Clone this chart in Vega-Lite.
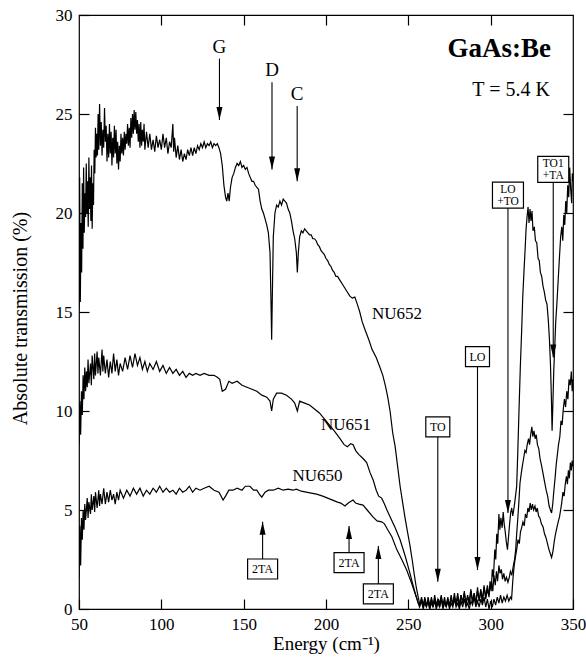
{
"$schema":"https://vega.github.io/schema/vega-lite/v6.json",
"width":494,"height":594,
"autosize":"none",
"padding":{"left":79,"top":15,"right":13,"bottom":59},
"background":"white",
"config":{"font":"Liberation Serif","view":{"stroke":"black","strokeWidth":1.2},
"style":{"guide-label":{"font":"Liberation Serif"},"guide-title":{"font":"Liberation Serif"}},
"axis":{"labelFont":"Liberation Serif","labelFontSize":17,"labelColor":"black","titleFont":"Liberation Serif","titleFontSize":19,"titleFontWeight":"normal","titleColor":"black","tickColor":"black","tickWidth":1.2,"domain":false,"grid":false}},
"datasets":{
"ann":[
{"t":"G","l1":"","l2":"","x":135.3,"yt":28.4,"ya":27.8,"yb":24.7,"dir":"down","box":"none"},
{"t":"D","l1":"","l2":"","x":167.2,"yt":27.2,"ya":26.6,"yb":22.2,"dir":"down","box":"none"},
{"t":"C","l1":"","l2":"","x":182.5,"yt":26.0,"ya":25.4,"yb":21.6,"dir":"down","box":"none"},
{"t":"TO","l1":"","l2":"","x":267.9,"yt":9.2,"ya":9.2,"yb":1.38,"dir":"down","box":"single"},
{"t":"LO","l1":"","l2":"","x":292.0,"yt":12.75,"ya":12.75,"yb":1.97,"dir":"down","box":"single"},
{"t":"LO +TO","l1":"LO","l2":"+TO","x":310.5,"yt":20.9,"ya":20.9,"yb":4.85,"dir":"down","box":"double"},
{"t":"TO1 +TA","l1":"TO1","l2":"+TA","x":338.0,"yt":22.2,"ya":22.2,"yb":12.7,"dir":"down","box":"double"},
{"t":"2TA","l1":"","l2":"","x":161.5,"yt":2.02,"ya":2.02,"yb":4.41,"dir":"up","box":"wide"},
{"t":"2TA","l1":"","l2":"","x":214.0,"yt":2.34,"ya":2.34,"yb":4.19,"dir":"up","box":"wide"},
{"t":"2TA","l1":"","l2":"","x":231.8,"yt":0.76,"ya":0.76,"yb":3.18,"dir":"up","box":"wide"}
],
"curvelabels":[
{"t":"NU652","x":243.1,"y":14.9},
{"t":"NU651","x":212.1,"y":9.3},
{"t":"NU650","x":194.8,"y":6.7}
],
"titles":[
{"t":"GaAs:Be","x":336.6,"y":28.3,"k":"main"},
{"t":"T = 5.4 K","x":336.0,"y":26.2,"k":"sub"}
],
"spectra":[
{"s":"NU652","x":50,"y":15.2},{"s":"NU652","x":50.4,"y":21.8},{"s":"NU652","x":50.8,"y":15.5},{"s":"NU652","x":51.2,"y":19.5},{"s":"NU652","x":51.6,"y":17.0},{"s":"NU652","x":52.0,"y":21.5},{"s":"NU652","x":52.4,"y":18.2},{"s":"NU652","x":52.8,"y":22.3},{"s":"NU652","x":53.2,"y":19.0},{"s":"NU652","x":53.6,"y":21.0},{"s":"NU652","x":54.0,"y":19.8},{"s":"NU652","x":54.4,"y":22.5},{"s":"NU652","x":54.8,"y":20.0},{"s":"NU652","x":55.2,"y":21.6},{"s":"NU652","x":55.6,"y":19.3},{"s":"NU652","x":56.0,"y":22.8},{"s":"NU652","x":56.4,"y":20.2},{"s":"NU652","x":56.8,"y":21.8},{"s":"NU652","x":57.2,"y":19.6},{"s":"NU652","x":57.6,"y":22.4},{"s":"NU652","x":58.0,"y":19.2},{"s":"NU652","x":58.4,"y":21.5},{"s":"NU652","x":58.8,"y":20.4},{"s":"NU652","x":59.2,"y":23.2},{"s":"NU652","x":59.6,"y":22.0},{"s":"NU652","x":60.0,"y":24.3},{"s":"NU652","x":60.4,"y":22.8},{"s":"NU652","x":60.8,"y":24.0},{"s":"NU652","x":61.2,"y":22.9},{"s":"NU652","x":61.6,"y":25.0},{"s":"NU652","x":62.0,"y":23.2},{"s":"NU652","x":62.5,"y":25.5},{"s":"NU652","x":63.0,"y":23.4},{"s":"NU652","x":63.5,"y":24.6},{"s":"NU652","x":64.0,"y":22.9},{"s":"NU652","x":64.5,"y":24.2},{"s":"NU652","x":65.0,"y":23.3},{"s":"NU652","x":65.5,"y":25.3},{"s":"NU652","x":66.0,"y":23.6},{"s":"NU652","x":66.5,"y":24.4},{"s":"NU652","x":67.0,"y":22.6},{"s":"NU652","x":67.5,"y":24.0},{"s":"NU652","x":68.0,"y":22.8},{"s":"NU652","x":68.5,"y":24.5},{"s":"NU652","x":69.0,"y":23.0},{"s":"NU652","x":69.5,"y":24.1},{"s":"NU652","x":70.0,"y":22.4},{"s":"NU652","x":70.5,"y":23.8},{"s":"NU652","x":71.0,"y":22.8},{"s":"NU652","x":71.5,"y":24.4},{"s":"NU652","x":72.0,"y":23.0},{"s":"NU652","x":72.5,"y":24.2},{"s":"NU652","x":73.0,"y":22.5},{"s":"NU652","x":73.5,"y":23.6},{"s":"NU652","x":74.0,"y":22.2},{"s":"NU652","x":74.5,"y":23.4},{"s":"NU652","x":75.0,"y":22.6},{"s":"NU652","x":75.5,"y":24.0},{"s":"NU652","x":76.0,"y":23.0},{"s":"NU652","x":76.5,"y":23.8},{"s":"NU652","x":77.0,"y":22.9},{"s":"NU652","x":77.5,"y":24.1},{"s":"NU652","x":78.0,"y":23.2},{"s":"NU652","x":78.5,"y":24.0},{"s":"NU652","x":79.0,"y":23.5},{"s":"NU652","x":79.5,"y":24.5},{"s":"NU652","x":80.0,"y":23.4},{"s":"NU652","x":80.5,"y":24.3},{"s":"NU652","x":81.0,"y":23.3},{"s":"NU652","x":81.5,"y":24.8},{"s":"NU652","x":82.0,"y":23.8},{"s":"NU652","x":82.5,"y":25.0},{"s":"NU652","x":83.0,"y":24.0},{"s":"NU652","x":83.5,"y":25.2},{"s":"NU652","x":84.0,"y":24.2},{"s":"NU652","x":84.5,"y":25.1},{"s":"NU652","x":85.0,"y":24.0},{"s":"NU652","x":85.5,"y":24.7},{"s":"NU652","x":86.0,"y":23.6},{"s":"NU652","x":86.5,"y":24.5},{"s":"NU652","x":87.0,"y":23.3},{"s":"NU652","x":87.5,"y":24.6},{"s":"NU652","x":88.0,"y":23.4},{"s":"NU652","x":88.5,"y":24.2},{"s":"NU652","x":89.0,"y":23.6},{"s":"NU652","x":89.5,"y":24.5},{"s":"NU652","x":90.0,"y":23.2},{"s":"NU652","x":91.0,"y":24.1},{"s":"NU652","x":92.0,"y":23.3},{"s":"NU652","x":93.0,"y":24.0},{"s":"NU652","x":94.0,"y":23.2},{"s":"NU652","x":95.0,"y":23.7},{"s":"NU652","x":96.0,"y":23.1},{"s":"NU652","x":97.0,"y":23.9},{"s":"NU652","x":98.0,"y":23.3},{"s":"NU652","x":99.0,"y":23.7},{"s":"NU652","x":100.0,"y":23.2},{"s":"NU652","x":101.0,"y":24.0},{"s":"NU652","x":102.0,"y":23.3},{"s":"NU652","x":103.0,"y":23.8},{"s":"NU652","x":104.0,"y":23.0},{"s":"NU652","x":105.0,"y":23.6},{"s":"NU652","x":106.0,"y":23.3},{"s":"NU652","x":107.0,"y":24.5},{"s":"NU652","x":107.5,"y":23.1},{"s":"NU652","x":108.0,"y":23.8},{"s":"NU652","x":109.0,"y":22.8},{"s":"NU652","x":110.0,"y":23.4},{"s":"NU652","x":111.0,"y":22.7},{"s":"NU652","x":112.0,"y":23.2},{"s":"NU652","x":113.0,"y":22.6},{"s":"NU652","x":114.0,"y":23.0},{"s":"NU652","x":115.0,"y":22.7},{"s":"NU652","x":116.0,"y":23.2},{"s":"NU652","x":117.0,"y":22.9},{"s":"NU652","x":118.0,"y":23.3},{"s":"NU652","x":119.0,"y":22.9},{"s":"NU652","x":120.0,"y":23.3},{"s":"NU652","x":121.0,"y":23.0},{"s":"NU652","x":122.0,"y":23.4},{"s":"NU652","x":123.0,"y":23.2},{"s":"NU652","x":124.0,"y":23.5},{"s":"NU652","x":125.0,"y":23.3},{"s":"NU652","x":126.0,"y":23.6},{"s":"NU652","x":127.0,"y":23.3},{"s":"NU652","x":128.0,"y":23.5},{"s":"NU652","x":129.0,"y":23.4},{"s":"NU652","x":130.0,"y":23.6},{"s":"NU652","x":131.0,"y":23.3},{"s":"NU652","x":132.0,"y":23.5},{"s":"NU652","x":133.0,"y":23.4},{"s":"NU652","x":134.0,"y":23.5},{"s":"NU652","x":135.0,"y":23.3},{"s":"NU652","x":136.0,"y":23.0},{"s":"NU652","x":137.0,"y":22.4},{"s":"NU652","x":138.0,"y":21.4},{"s":"NU652","x":139.0,"y":20.8},{"s":"NU652","x":139.7,"y":20.6},{"s":"NU652","x":140.5,"y":21.0},{"s":"NU652","x":141.2,"y":20.6},{"s":"NU652","x":142.0,"y":21.3},{"s":"NU652","x":143.0,"y":21.8},{"s":"NU652","x":144.0,"y":22.0},{"s":"NU652","x":145.0,"y":22.3},{"s":"NU652","x":146.0,"y":22.5},{"s":"NU652","x":147.0,"y":22.4},{"s":"NU652","x":148.0,"y":22.6},{"s":"NU652","x":149.0,"y":22.3},{"s":"NU652","x":150.0,"y":22.4},{"s":"NU652","x":151.0,"y":22.2},{"s":"NU652","x":152.0,"y":22.3},{"s":"NU652","x":153.0,"y":22.0},{"s":"NU652","x":154.0,"y":21.8},{"s":"NU652","x":155.0,"y":21.6},{"s":"NU652","x":156.0,"y":21.6},{"s":"NU652","x":157.0,"y":21.4},{"s":"NU652","x":158.0,"y":21.3},{"s":"NU652","x":159.0,"y":21.2},{"s":"NU652","x":160.0,"y":20.6},{"s":"NU652","x":161.0,"y":20.2},{"s":"NU652","x":162.0,"y":20.0},{"s":"NU652","x":163.0,"y":19.7},{"s":"NU652","x":164.0,"y":19.4},{"s":"NU652","x":165.0,"y":19.0},{"s":"NU652","x":166.0,"y":18.0},{"s":"NU652","x":166.6,"y":15.5},{"s":"NU652","x":167.0,"y":13.6},{"s":"NU652","x":167.4,"y":15.8},{"s":"NU652","x":168.0,"y":18.8},{"s":"NU652","x":169.0,"y":20.0},{"s":"NU652","x":170.0,"y":20.4},{"s":"NU652","x":171.0,"y":20.3},{"s":"NU652","x":172.0,"y":20.6},{"s":"NU652","x":173.0,"y":20.4},{"s":"NU652","x":174.0,"y":20.7},{"s":"NU652","x":175.0,"y":20.6},{"s":"NU652","x":176.0,"y":20.5},{"s":"NU652","x":177.0,"y":20.2},{"s":"NU652","x":178.0,"y":20.0},{"s":"NU652","x":179.0,"y":19.6},{"s":"NU652","x":180.0,"y":19.1},{"s":"NU652","x":181.0,"y":18.7},{"s":"NU652","x":182.0,"y":18.0},{"s":"NU652","x":182.6,"y":17.0},{"s":"NU652","x":183.2,"y":18.0},{"s":"NU652","x":184.0,"y":18.8},{"s":"NU652","x":185.0,"y":19.1},{"s":"NU652","x":186.0,"y":19.0},{"s":"NU652","x":187.0,"y":19.2},{"s":"NU652","x":188.0,"y":19.1},{"s":"NU652","x":189.0,"y":19.0},{"s":"NU652","x":190.0,"y":18.9},{"s":"NU652","x":191.0,"y":18.9},{"s":"NU652","x":192.0,"y":18.7},{"s":"NU652","x":193.0,"y":18.7},{"s":"NU652","x":194.0,"y":18.6},{"s":"NU652","x":195.0,"y":18.4},{"s":"NU652","x":196.0,"y":18.3},{"s":"NU652","x":197.0,"y":18.1},{"s":"NU652","x":198.0,"y":18.0},{"s":"NU652","x":199.0,"y":17.9},{"s":"NU652","x":200.0,"y":17.7},{"s":"NU652","x":201.0,"y":17.6},{"s":"NU652","x":202.0,"y":17.4},{"s":"NU652","x":203.0,"y":17.3},{"s":"NU652","x":204.0,"y":17.1},{"s":"NU652","x":205.0,"y":17.0},{"s":"NU652","x":206.0,"y":16.8},{"s":"NU652","x":207.0,"y":16.8},{"s":"NU652","x":208.5,"y":16.6},{"s":"NU652","x":210.0,"y":16.4},{"s":"NU652","x":211.5,"y":16.2},{"s":"NU652","x":213.0,"y":16.0},{"s":"NU652","x":214.5,"y":15.8},{"s":"NU652","x":216.0,"y":15.7},{"s":"NU652","x":217.5,"y":15.75},{"s":"NU652","x":219.0,"y":15.4},{"s":"NU652","x":220.5,"y":15.0},{"s":"NU652","x":222.0,"y":14.5},{"s":"NU652","x":223.7,"y":14.1},{"s":"NU652","x":226.0,"y":13.6},{"s":"NU652","x":228.0,"y":13.1},{"s":"NU652","x":230.5,"y":12.7},{"s":"NU652","x":232.8,"y":12.2},{"s":"NU652","x":234.5,"y":11.8},{"s":"NU652","x":236.0,"y":11.3},{"s":"NU652","x":237.5,"y":10.7},{"s":"NU652","x":238.9,"y":10.0},{"s":"NU652","x":240.5,"y":8.9},{"s":"NU652","x":242.0,"y":8.2},{"s":"NU652","x":243.5,"y":7.2},{"s":"NU652","x":245.0,"y":6.2},{"s":"NU652","x":246.5,"y":5.4},{"s":"NU652","x":248.0,"y":4.6},{"s":"NU652","x":249.5,"y":3.9},{"s":"NU652","x":251.0,"y":3.2},{"s":"NU652","x":252.5,"y":2.4},{"s":"NU652","x":253.5,"y":1.8},{"s":"NU652","x":254.8,"y":1.1},{"s":"NU652","x":256.0,"y":0.6},{"s":"NU652","x":257.0,"y":0.2},{"s":"NU652","x":258,"y":0.5},{"s":"NU652","x":259,"y":0.1},{"s":"NU652","x":260,"y":0.6},{"s":"NU652","x":261,"y":0.2},{"s":"NU652","x":262,"y":0.4},{"s":"NU652","x":263,"y":0.0},{"s":"NU652","x":264,"y":0.6},{"s":"NU652","x":265,"y":0.2},{"s":"NU652","x":266,"y":0.5},{"s":"NU652","x":267,"y":0.1},{"s":"NU652","x":268,"y":0.5},{"s":"NU652","x":269,"y":0.3},{"s":"NU652","x":270,"y":0.7},{"s":"NU652","x":271,"y":0.1},{"s":"NU652","x":272,"y":0.4},{"s":"NU652","x":273,"y":0.2},{"s":"NU652","x":274,"y":0.6},{"s":"NU652","x":275,"y":0.1},{"s":"NU652","x":276,"y":0.5},{"s":"NU652","x":277,"y":0.3},{"s":"NU652","x":278,"y":0.8},{"s":"NU652","x":279,"y":0.2},{"s":"NU652","x":280,"y":0.6},{"s":"NU652","x":281,"y":0.1},{"s":"NU652","x":282,"y":0.7},{"s":"NU652","x":283,"y":0.3},{"s":"NU652","x":284,"y":0.9},{"s":"NU652","x":285,"y":0.2},{"s":"NU652","x":286,"y":0.6},{"s":"NU652","x":287,"y":0.4},{"s":"NU652","x":288,"y":1.0},{"s":"NU652","x":289,"y":0.3},{"s":"NU652","x":290,"y":0.8},{"s":"NU652","x":291,"y":0.2},{"s":"NU652","x":292,"y":1.1},{"s":"NU652","x":293,"y":0.4},{"s":"NU652","x":294,"y":0.9},{"s":"NU652","x":295,"y":0.3},{"s":"NU652","x":296,"y":1.2},{"s":"NU652","x":297,"y":0.5},{"s":"NU652","x":298,"y":1.0},{"s":"NU652","x":299,"y":0.6},{"s":"NU652","x":299.6,"y":1.4},{"s":"NU652","x":300.3,"y":0.9},{"s":"NU652","x":301,"y":2.0},{"s":"NU652","x":301.7,"y":1.6},{"s":"NU652","x":302.5,"y":3.0},{"s":"NU652","x":303.1,"y":2.5},{"s":"NU652","x":303.7,"y":3.8},{"s":"NU652","x":304.3,"y":3.3},{"s":"NU652","x":305,"y":4.8},{"s":"NU652","x":305.6,"y":4.0},{"s":"NU652","x":306.2,"y":4.6},{"s":"NU652","x":307,"y":4.1},{"s":"NU652","x":307.6,"y":4.9},{"s":"NU652","x":308.2,"y":4.3},{"s":"NU652","x":308.7,"y":4.0},{"s":"NU652","x":309.5,"y":3.4},{"s":"NU652","x":310.2,"y":3.0},{"s":"NU652","x":310.8,"y":3.6},{"s":"NU652","x":311.5,"y":4.3},{"s":"NU652","x":312.2,"y":4.9},{"s":"NU652","x":312.8,"y":5.1},{"s":"NU652","x":313.4,"y":4.7},{"s":"NU652","x":314.0,"y":5.0},{"s":"NU652","x":314.8,"y":5.5},{"s":"NU652","x":315.8,"y":6.2},{"s":"NU652","x":316.5,"y":8.0},{"s":"NU652","x":317.2,"y":10.0},{"s":"NU652","x":318.0,"y":12.2},{"s":"NU652","x":318.8,"y":14.0},{"s":"NU652","x":319.5,"y":15.8},{"s":"NU652","x":320.2,"y":17.0},{"s":"NU652","x":321.0,"y":18.3},{"s":"NU652","x":321.5,"y":19.2},{"s":"NU652","x":322.1,"y":19.8},{"s":"NU652","x":322.7,"y":20.3},{"s":"NU652","x":323.3,"y":19.5},{"s":"NU652","x":323.9,"y":20.2},{"s":"NU652","x":324.5,"y":19.6},{"s":"NU652","x":325.1,"y":20.1},{"s":"NU652","x":325.7,"y":19.1},{"s":"NU652","x":326.5,"y":19.3},{"s":"NU652","x":327.2,"y":18.6},{"s":"NU652","x":328,"y":18.5},{"s":"NU652","x":328.8,"y":17.7},{"s":"NU652","x":329.5,"y":17.6},{"s":"NU652","x":330.2,"y":17.0},{"s":"NU652","x":331,"y":16.8},{"s":"NU652","x":331.8,"y":16.3},{"s":"NU652","x":332.6,"y":16.0},{"s":"NU652","x":333.4,"y":15.6},{"s":"NU652","x":334.2,"y":15.4},{"s":"NU652","x":335.0,"y":14.6},{"s":"NU652","x":335.7,"y":13.6},{"s":"NU652","x":336.3,"y":12.4},{"s":"NU652","x":336.9,"y":10.6},{"s":"NU652","x":337.3,"y":9.0},{"s":"NU652","x":337.8,"y":10.4},{"s":"NU652","x":338.3,"y":12.0},{"s":"NU652","x":338.9,"y":13.2},{"s":"NU652","x":339.5,"y":14.5},{"s":"NU652","x":340.2,"y":15.4},{"s":"NU652","x":341.0,"y":16.6},{"s":"NU652","x":341.8,"y":17.8},{"s":"NU652","x":342.5,"y":18.8},{"s":"NU652","x":343.2,"y":19.3},{"s":"NU652","x":343.8,"y":18.6},{"s":"NU652","x":344.4,"y":19.9},{"s":"NU652","x":345.0,"y":19.4},{"s":"NU652","x":345.6,"y":20.6},{"s":"NU652","x":346.2,"y":20.0},{"s":"NU652","x":346.8,"y":21.4},{"s":"NU652","x":347.4,"y":20.8},{"s":"NU652","x":348.0,"y":22.3},{"s":"NU652","x":348.6,"y":21.2},{"s":"NU652","x":349.2,"y":20.5},{"s":"NU652","x":349.6,"y":22.0},{"s":"NU652","x":350,"y":21.6},
{"s":"NU651","x":50,"y":8.3},{"s":"NU651","x":50.5,"y":10.5},{"s":"NU651","x":51,"y":8.8},{"s":"NU651","x":51.5,"y":11.0},{"s":"NU651","x":52,"y":9.8},{"s":"NU651","x":52.5,"y":11.8},{"s":"NU651","x":53,"y":10.6},{"s":"NU651","x":53.5,"y":12.2},{"s":"NU651","x":54,"y":11.0},{"s":"NU651","x":54.5,"y":12.0},{"s":"NU651","x":55,"y":11.2},{"s":"NU651","x":55.5,"y":12.6},{"s":"NU651","x":56,"y":11.4},{"s":"NU651","x":57,"y":12.4},{"s":"NU651","x":57.5,"y":11.3},{"s":"NU651","x":58,"y":12.8},{"s":"NU651","x":59,"y":11.6},{"s":"NU651","x":59.5,"y":12.9},{"s":"NU651","x":60,"y":11.8},{"s":"NU651","x":61,"y":13.0},{"s":"NU651","x":61.5,"y":11.9},{"s":"NU651","x":62,"y":12.7},{"s":"NU651","x":63,"y":11.8},{"s":"NU651","x":64,"y":13.1},{"s":"NU651","x":64.5,"y":12.0},{"s":"NU651","x":65,"y":12.8},{"s":"NU651","x":66,"y":11.9},{"s":"NU651","x":67,"y":12.6},{"s":"NU651","x":68,"y":11.7},{"s":"NU651","x":69,"y":12.5},{"s":"NU651","x":70,"y":11.9},{"s":"NU651","x":71,"y":12.9},{"s":"NU651","x":72,"y":12.0},{"s":"NU651","x":73,"y":12.6},{"s":"NU651","x":74,"y":11.8},{"s":"NU651","x":75,"y":12.4},{"s":"NU651","x":76.5,"y":12.0},{"s":"NU651","x":78,"y":12.7},{"s":"NU651","x":79.5,"y":12.1},{"s":"NU651","x":81,"y":12.8},{"s":"NU651","x":82.5,"y":12.2},{"s":"NU651","x":84,"y":12.9},{"s":"NU651","x":85.5,"y":12.3},{"s":"NU651","x":87,"y":12.7},{"s":"NU651","x":88.5,"y":12.1},{"s":"NU651","x":90,"y":12.5},{"s":"NU651","x":91.5,"y":12.0},{"s":"NU651","x":93,"y":12.4},{"s":"NU651","x":95,"y":12.1},{"s":"NU651","x":97,"y":12.5},{"s":"NU651","x":99,"y":12.0},{"s":"NU651","x":101,"y":12.3},{"s":"NU651","x":103,"y":11.9},{"s":"NU651","x":105,"y":12.2},{"s":"NU651","x":107,"y":11.9},{"s":"NU651","x":109,"y":12.1},{"s":"NU651","x":111,"y":11.8},{"s":"NU651","x":113,"y":12.0},{"s":"NU651","x":115,"y":11.7},{"s":"NU651","x":117,"y":11.9},{"s":"NU651","x":119,"y":11.8},{"s":"NU651","x":121,"y":11.9},{"s":"NU651","x":123.5,"y":11.8},{"s":"NU651","x":126,"y":11.9},{"s":"NU651","x":129,"y":11.8},{"s":"NU651","x":132,"y":11.8},{"s":"NU651","x":134,"y":11.7},{"s":"NU651","x":135.5,"y":11.6},{"s":"NU651","x":137,"y":11.0},{"s":"NU651","x":139,"y":11.1},{"s":"NU651","x":141,"y":11.5},{"s":"NU651","x":143,"y":11.4},{"s":"NU651","x":146,"y":11.5},{"s":"NU651","x":149,"y":11.3},{"s":"NU651","x":152,"y":11.2},{"s":"NU651","x":155,"y":11.1},{"s":"NU651","x":158,"y":11.0},{"s":"NU651","x":161,"y":10.8},{"s":"NU651","x":164,"y":10.7},{"s":"NU651","x":166,"y":10.5},{"s":"NU651","x":167,"y":10.0},{"s":"NU651","x":168,"y":10.6},{"s":"NU651","x":170,"y":10.9},{"s":"NU651","x":173,"y":10.9},{"s":"NU651","x":176,"y":10.8},{"s":"NU651","x":179,"y":10.6},{"s":"NU651","x":181,"y":10.4},{"s":"NU651","x":182.6,"y":10.0},{"s":"NU651","x":184,"y":10.5},{"s":"NU651","x":187,"y":10.4},{"s":"NU651","x":190,"y":10.3},{"s":"NU651","x":193,"y":10.1},{"s":"NU651","x":196,"y":9.9},{"s":"NU651","x":199,"y":9.6},{"s":"NU651","x":202,"y":9.3},{"s":"NU651","x":205,"y":9.0},{"s":"NU651","x":208.5,"y":8.6},{"s":"NU651","x":211,"y":8.3},{"s":"NU651","x":213,"y":8.2},{"s":"NU651","x":215,"y":8.35},{"s":"NU651","x":216.5,"y":8.3},{"s":"NU651","x":218,"y":8.0},{"s":"NU651","x":220,"y":7.8},{"s":"NU651","x":222.5,"y":7.6},{"s":"NU651","x":224.7,"y":7.4},{"s":"NU651","x":226.7,"y":6.9},{"s":"NU651","x":228.7,"y":6.5},{"s":"NU651","x":230.5,"y":6.0},{"s":"NU651","x":232,"y":5.7},{"s":"NU651","x":233.8,"y":5.6},{"s":"NU651","x":235.5,"y":5.3},{"s":"NU651","x":237,"y":5.0},{"s":"NU651","x":238.9,"y":4.66},{"s":"NU651","x":242,"y":4.1},{"s":"NU651","x":245,"y":3.5},{"s":"NU651","x":248,"y":2.7},{"s":"NU651","x":251,"y":1.8},{"s":"NU651","x":253.5,"y":1.0},{"s":"NU651","x":256,"y":0.3},{"s":"NU651","x":257,"y":0.2},{"s":"NU651","x":258,"y":0.6},{"s":"NU651","x":259,"y":0.2},{"s":"NU651","x":260,"y":0.5},{"s":"NU651","x":261,"y":0.1},{"s":"NU651","x":262,"y":0.6},{"s":"NU651","x":263,"y":0.2},{"s":"NU651","x":264,"y":0.5},{"s":"NU651","x":265,"y":0.1},{"s":"NU651","x":266,"y":0.7},{"s":"NU651","x":267,"y":0.2},{"s":"NU651","x":268,"y":0.5},{"s":"NU651","x":269,"y":0.1},{"s":"NU651","x":270,"y":0.6},{"s":"NU651","x":271,"y":0.2},{"s":"NU651","x":272,"y":0.6},{"s":"NU651","x":273,"y":0.1},{"s":"NU651","x":274,"y":0.5},{"s":"NU651","x":275,"y":0.2},{"s":"NU651","x":276,"y":0.7},{"s":"NU651","x":277,"y":0.2},{"s":"NU651","x":278,"y":0.6},{"s":"NU651","x":279,"y":0.3},{"s":"NU651","x":280,"y":0.8},{"s":"NU651","x":281,"y":0.2},{"s":"NU651","x":282,"y":0.7},{"s":"NU651","x":283,"y":0.3},{"s":"NU651","x":284,"y":0.8},{"s":"NU651","x":285,"y":0.3},{"s":"NU651","x":286,"y":0.7},{"s":"NU651","x":287,"y":0.2},{"s":"NU651","x":288,"y":0.9},{"s":"NU651","x":289,"y":0.4},{"s":"NU651","x":290,"y":0.8},{"s":"NU651","x":291,"y":0.3},{"s":"NU651","x":292,"y":0.9},{"s":"NU651","x":293,"y":0.4},{"s":"NU651","x":294,"y":1.0},{"s":"NU651","x":295,"y":0.5},{"s":"NU651","x":296,"y":1.1},{"s":"NU651","x":297,"y":0.6},{"s":"NU651","x":298,"y":1.2},{"s":"NU651","x":299,"y":0.7},{"s":"NU651","x":299.6,"y":1.1},{"s":"NU651","x":300.5,"y":1.4},{"s":"NU651","x":301.3,"y":0.9},{"s":"NU651","x":302.0,"y":1.7},{"s":"NU651","x":302.8,"y":1.2},{"s":"NU651","x":303.5,"y":1.9},{"s":"NU651","x":304.2,"y":1.4},{"s":"NU651","x":305.0,"y":2.2},{"s":"NU651","x":305.7,"y":1.8},{"s":"NU651","x":306.5,"y":2.0},{"s":"NU651","x":307.2,"y":1.5},{"s":"NU651","x":308.0,"y":1.8},{"s":"NU651","x":308.8,"y":1.4},{"s":"NU651","x":309.6,"y":1.6},{"s":"NU651","x":310.5,"y":1.35},{"s":"NU651","x":311.3,"y":1.6},{"s":"NU651","x":312.0,"y":1.9},{"s":"NU651","x":312.8,"y":1.7},{"s":"NU651","x":313.6,"y":2.1},{"s":"NU651","x":314.5,"y":2.5},{"s":"NU651","x":315.2,"y":3.0},{"s":"NU651","x":315.8,"y":3.8},{"s":"NU651","x":316.5,"y":4.6},{"s":"NU651","x":317.2,"y":5.5},{"s":"NU651","x":317.8,"y":6.35},{"s":"NU651","x":318.5,"y":6.8},{"s":"NU651","x":319.2,"y":7.2},{"s":"NU651","x":320.0,"y":7.6},{"s":"NU651","x":320.8,"y":8.0},{"s":"NU651","x":321.5,"y":7.9},{"s":"NU651","x":322.2,"y":8.3},{"s":"NU651","x":323.0,"y":8.6},{"s":"NU651","x":323.6,"y":8.3},{"s":"NU651","x":324.3,"y":8.8},{"s":"NU651","x":325.0,"y":9.2},{"s":"NU651","x":325.6,"y":8.7},{"s":"NU651","x":326.3,"y":9.0},{"s":"NU651","x":327.0,"y":8.6},{"s":"NU651","x":327.7,"y":8.8},{"s":"NU651","x":328.4,"y":8.3},{"s":"NU651","x":329.2,"y":8.1},{"s":"NU651","x":330.0,"y":7.6},{"s":"NU651","x":331.0,"y":7.2},{"s":"NU651","x":331.8,"y":6.85},{"s":"NU651","x":332.8,"y":6.4},{"s":"NU651","x":333.7,"y":6.0},{"s":"NU651","x":334.6,"y":5.7},{"s":"NU651","x":335.5,"y":5.2},{"s":"NU651","x":336.3,"y":5.0},{"s":"NU651","x":337.0,"y":4.85},{"s":"NU651","x":337.7,"y":5.3},{"s":"NU651","x":338.4,"y":6.0},{"s":"NU651","x":339.1,"y":6.6},{"s":"NU651","x":339.8,"y":7.3},{"s":"NU651","x":340.5,"y":7.8},{"s":"NU651","x":341.2,"y":8.3},{"s":"NU651","x":342.0,"y":8.7},{"s":"NU651","x":342.7,"y":9.5},{"s":"NU651","x":343.4,"y":9.3},{"s":"NU651","x":344.1,"y":10.1},{"s":"NU651","x":344.8,"y":10.6},{"s":"NU651","x":345.5,"y":10.2},{"s":"NU651","x":346.2,"y":11.0},{"s":"NU651","x":346.9,"y":10.6},{"s":"NU651","x":347.6,"y":11.6},{"s":"NU651","x":348.3,"y":11.3},{"s":"NU651","x":349.0,"y":12.0},{"s":"NU651","x":349.5,"y":11.0},{"s":"NU651","x":350,"y":11.6},
{"s":"NU650","x":50,"y":1.6},{"s":"NU650","x":50.5,"y":4.2},{"s":"NU650","x":51,"y":2.2},{"s":"NU650","x":51.5,"y":4.6},{"s":"NU650","x":52,"y":3.5},{"s":"NU650","x":52.5,"y":5.0},{"s":"NU650","x":53,"y":4.0},{"s":"NU650","x":53.5,"y":5.3},{"s":"NU650","x":54,"y":4.5},{"s":"NU650","x":55,"y":5.6},{"s":"NU650","x":55.5,"y":4.6},{"s":"NU650","x":56,"y":5.4},{"s":"NU650","x":57,"y":4.8},{"s":"NU650","x":57.5,"y":5.8},{"s":"NU650","x":58,"y":5.0},{"s":"NU650","x":59,"y":5.7},{"s":"NU650","x":59.5,"y":4.9},{"s":"NU650","x":60,"y":5.9},{"s":"NU650","x":61,"y":5.1},{"s":"NU650","x":62,"y":6.0},{"s":"NU650","x":62.5,"y":5.2},{"s":"NU650","x":63,"y":5.8},{"s":"NU650","x":64,"y":5.3},{"s":"NU650","x":65,"y":6.1},{"s":"NU650","x":66,"y":5.3},{"s":"NU650","x":67,"y":5.9},{"s":"NU650","x":68,"y":5.4},{"s":"NU650","x":69,"y":6.0},{"s":"NU650","x":70,"y":5.5},{"s":"NU650","x":71,"y":5.8},{"s":"NU650","x":72,"y":5.3},{"s":"NU650","x":73,"y":5.9},{"s":"NU650","x":74,"y":5.5},{"s":"NU650","x":75,"y":6.0},{"s":"NU650","x":77,"y":5.6},{"s":"NU650","x":79,"y":6.0},{"s":"NU650","x":81,"y":5.7},{"s":"NU650","x":83,"y":6.1},{"s":"NU650","x":85,"y":5.8},{"s":"NU650","x":87,"y":6.1},{"s":"NU650","x":89,"y":5.7},{"s":"NU650","x":91,"y":6.0},{"s":"NU650","x":93,"y":5.8},{"s":"NU650","x":95,"y":6.1},{"s":"NU650","x":97,"y":5.9},{"s":"NU650","x":99,"y":6.2},{"s":"NU650","x":101,"y":5.9},{"s":"NU650","x":103,"y":6.1},{"s":"NU650","x":105,"y":5.9},{"s":"NU650","x":107,"y":6.0},{"s":"NU650","x":109,"y":5.8},{"s":"NU650","x":111,"y":6.1},{"s":"NU650","x":113,"y":5.9},{"s":"NU650","x":115,"y":6.0},{"s":"NU650","x":117,"y":6.2},{"s":"NU650","x":119,"y":5.9},{"s":"NU650","x":121,"y":6.1},{"s":"NU650","x":123.5,"y":6.0},{"s":"NU650","x":126,"y":6.1},{"s":"NU650","x":129,"y":6.2},{"s":"NU650","x":132,"y":6.0},{"s":"NU650","x":135,"y":5.9},{"s":"NU650","x":137.5,"y":5.5},{"s":"NU650","x":139,"y":5.7},{"s":"NU650","x":141,"y":6.0},{"s":"NU650","x":143.5,"y":6.0},{"s":"NU650","x":146,"y":6.1},{"s":"NU650","x":149,"y":6.0},{"s":"NU650","x":151,"y":6.2},{"s":"NU650","x":153.8,"y":6.2},{"s":"NU650","x":156,"y":6.0},{"s":"NU650","x":158,"y":6.0},{"s":"NU650","x":159.5,"y":5.8},{"s":"NU650","x":161,"y":5.65},{"s":"NU650","x":163,"y":5.9},{"s":"NU650","x":165,"y":6.0},{"s":"NU650","x":168,"y":6.0},{"s":"NU650","x":171,"y":6.1},{"s":"NU650","x":174,"y":6.0},{"s":"NU650","x":177,"y":6.05},{"s":"NU650","x":180,"y":6.0},{"s":"NU650","x":182,"y":6.05},{"s":"NU650","x":185,"y":5.95},{"s":"NU650","x":188,"y":5.9},{"s":"NU650","x":191,"y":5.85},{"s":"NU650","x":194.3,"y":5.8},{"s":"NU650","x":198,"y":5.7},{"s":"NU650","x":201,"y":5.6},{"s":"NU650","x":204,"y":5.5},{"s":"NU650","x":207,"y":5.4},{"s":"NU650","x":209,"y":5.35},{"s":"NU650","x":211.5,"y":5.2},{"s":"NU650","x":213.5,"y":5.35},{"s":"NU650","x":216.4,"y":5.5},{"s":"NU650","x":218,"y":5.35},{"s":"NU650","x":220,"y":5.3},{"s":"NU650","x":222.5,"y":5.25},{"s":"NU650","x":225,"y":5.0},{"s":"NU650","x":228.5,"y":4.65},{"s":"NU650","x":231,"y":4.45},{"s":"NU650","x":233.8,"y":4.4},{"s":"NU650","x":235.5,"y":4.3},{"s":"NU650","x":237.5,"y":4.0},{"s":"NU650","x":240,"y":3.65},{"s":"NU650","x":243,"y":3.0},{"s":"NU650","x":246,"y":2.5},{"s":"NU650","x":249,"y":1.97},{"s":"NU650","x":252,"y":1.3},{"s":"NU650","x":254,"y":0.8},{"s":"NU650","x":256,"y":0.3},{"s":"NU650","x":256.8,"y":0.1},{"s":"NU650","x":258,"y":0.4},{"s":"NU650","x":259,"y":0.0},{"s":"NU650","x":260,"y":0.3},{"s":"NU650","x":261,"y":0.1},{"s":"NU650","x":262,"y":0.4},{"s":"NU650","x":263,"y":0.0},{"s":"NU650","x":264,"y":0.3},{"s":"NU650","x":265,"y":0.1},{"s":"NU650","x":266,"y":0.4},{"s":"NU650","x":267,"y":0.0},{"s":"NU650","x":268,"y":0.3},{"s":"NU650","x":269,"y":0.1},{"s":"NU650","x":270,"y":0.5},{"s":"NU650","x":271,"y":0.0},{"s":"NU650","x":272,"y":0.3},{"s":"NU650","x":273,"y":0.1},{"s":"NU650","x":274,"y":0.4},{"s":"NU650","x":275,"y":0.0},{"s":"NU650","x":276,"y":0.3},{"s":"NU650","x":277,"y":0.1},{"s":"NU650","x":278,"y":0.5},{"s":"NU650","x":279,"y":0.1},{"s":"NU650","x":280,"y":0.3},{"s":"NU650","x":281,"y":0.0},{"s":"NU650","x":282,"y":0.4},{"s":"NU650","x":283,"y":0.1},{"s":"NU650","x":284,"y":0.5},{"s":"NU650","x":285,"y":0.1},{"s":"NU650","x":286,"y":0.3},{"s":"NU650","x":287,"y":0.0},{"s":"NU650","x":288,"y":0.4},{"s":"NU650","x":289,"y":0.2},{"s":"NU650","x":290,"y":0.6},{"s":"NU650","x":291,"y":0.1},{"s":"NU650","x":292,"y":0.4},{"s":"NU650","x":293,"y":0.1},{"s":"NU650","x":294,"y":0.5},{"s":"NU650","x":295,"y":0.2},{"s":"NU650","x":296,"y":0.6},{"s":"NU650","x":297,"y":0.1},{"s":"NU650","x":298,"y":0.5},{"s":"NU650","x":299,"y":0.0},{"s":"NU650","x":300,"y":0.4},{"s":"NU650","x":301,"y":0.1},{"s":"NU650","x":302,"y":0.5},{"s":"NU650","x":303,"y":0.2},{"s":"NU650","x":304,"y":0.6},{"s":"NU650","x":305,"y":0.3},{"s":"NU650","x":306,"y":0.7},{"s":"NU650","x":307,"y":0.3},{"s":"NU650","x":308,"y":0.6},{"s":"NU650","x":309,"y":0.4},{"s":"NU650","x":310,"y":0.7},{"s":"NU650","x":311,"y":0.4},{"s":"NU650","x":312,"y":0.6},{"s":"NU650","x":312.7,"y":0.5},{"s":"NU650","x":313.5,"y":1.5},{"s":"NU650","x":314.3,"y":2.2},{"s":"NU650","x":315.0,"y":2.6},{"s":"NU650","x":315.8,"y":3.0},{"s":"NU650","x":316.6,"y":3.5},{"s":"NU650","x":317.4,"y":3.3},{"s":"NU650","x":318.1,"y":3.9},{"s":"NU650","x":318.8,"y":4.1},{"s":"NU650","x":319.6,"y":4.4},{"s":"NU650","x":320.4,"y":4.2},{"s":"NU650","x":321.1,"y":4.8},{"s":"NU650","x":321.9,"y":4.6},{"s":"NU650","x":322.6,"y":5.1},{"s":"NU650","x":323.3,"y":4.9},{"s":"NU650","x":324.0,"y":5.35},{"s":"NU650","x":324.7,"y":5.0},{"s":"NU650","x":325.4,"y":5.3},{"s":"NU650","x":326.1,"y":5.0},{"s":"NU650","x":326.9,"y":5.2},{"s":"NU650","x":327.6,"y":4.9},{"s":"NU650","x":328.3,"y":5.1},{"s":"NU650","x":329.1,"y":4.7},{"s":"NU650","x":329.9,"y":4.6},{"s":"NU650","x":330.8,"y":4.3},{"s":"NU650","x":331.8,"y":4.15},{"s":"NU650","x":332.7,"y":3.8},{"s":"NU650","x":333.6,"y":3.6},{"s":"NU650","x":334.5,"y":3.3},{"s":"NU650","x":335.4,"y":3.0},{"s":"NU650","x":336.2,"y":2.8},{"s":"NU650","x":337.0,"y":2.6},{"s":"NU650","x":337.8,"y":2.9},{"s":"NU650","x":338.6,"y":3.4},{"s":"NU650","x":339.4,"y":3.8},{"s":"NU650","x":340.2,"y":4.1},{"s":"NU650","x":341.0,"y":4.4},{"s":"NU650","x":341.8,"y":4.65},{"s":"NU650","x":342.5,"y":5.0},{"s":"NU650","x":343.2,"y":5.4},{"s":"NU650","x":343.9,"y":5.9},{"s":"NU650","x":344.6,"y":5.7},{"s":"NU650","x":345.3,"y":6.3},{"s":"NU650","x":346.0,"y":6.7},{"s":"NU650","x":346.6,"y":6.3},{"s":"NU650","x":347.2,"y":7.0},{"s":"NU650","x":347.8,"y":6.6},{"s":"NU650","x":348.4,"y":7.4},{"s":"NU650","x":349.0,"y":7.0},{"s":"NU650","x":349.5,"y":7.5},{"s":"NU650","x":350,"y":7.2}
]},
"layer":[
{"data":{"name":"spectra"},
 "mark":{"type":"line","color":"black","strokeWidth":1.2,"clip":true},
 "encoding":{
  "x":{"field":"x","type":"quantitative","scale":{"domain":[50,350],"nice":false,"zero":false},
       "axis":{"orient":"bottom","title":"Energy (cm⁻¹)","values":[50,100,150,200,250,300,350],"tickSize":-10,"labelPadding":17,"labelFlush":false,"labelFont":"Liberation Serif","titleFont":"Liberation Serif","titleY":40,"titleBaseline":"alphabetic"}},
  "y":{"field":"y","type":"quantitative","scale":{"domain":[0,30],"nice":false,"zero":false},
       "axis":{"orient":"left","title":"Absolute transmission (%)","values":[0,5,10,15,20,25,30],"tickSize":-10,"labelPadding":17,"labelFlush":false,"labelFont":"Liberation Serif","titleFont":"Liberation Serif","titleFontSize":20,"titleX":-59,"titleY":303,"titleBaseline":"middle"}},
  "detail":{"field":"s","type":"nominal"}}},
{"data":{"name":"ann"},
 "mark":{"type":"rule","color":"black","strokeWidth":1.1},
 "encoding":{
  "x":{"field":"x","type":"quantitative","scale":{"domain":[50,350],"nice":false,"zero":false},
       "axis":{"orient":"top","labels":false,"title":null,"values":[100,150,200,250,300],"tickSize":-10}},
  "y":{"field":"ya","type":"quantitative","scale":{"domain":[0,30],"nice":false,"zero":false},
       "axis":{"orient":"right","labels":false,"title":null,"values":[5,10,15,20,25],"tickSize":-10}},
  "y2":{"field":"yb"}}},
{"data":{"name":"ann"},
 "transform":[{"filter":"datum.box === 'single'"}],
 "mark":{"type":"point","shape":"M-1.2,-1L1.2,-1L1.2,1L-1.2,1Z","size":400,"filled":true,"fill":"white","stroke":"black","strokeWidth":1.2,"opacity":1},
 "encoding":{"x":{"field":"x","type":"quantitative","axis":null},"y":{"field":"yt","type":"quantitative","axis":null}}},
{"data":{"name":"ann"},
 "transform":[{"filter":"datum.box === 'wide'"}],
 "mark":{"type":"point","shape":"M-1.5,-1L1.5,-1L1.5,1L-1.5,1Z","size":400,"filled":true,"fill":"white","stroke":"black","strokeWidth":1.2,"opacity":1},
 "encoding":{"x":{"field":"x","type":"quantitative","axis":null},"y":{"field":"yt","type":"quantitative","axis":null}}},
{"data":{"name":"ann"},
 "transform":[{"filter":"datum.box === 'double'"}],
 "mark":{"type":"point","shape":"M-1.55,-1.3L1.55,-1.3L1.55,1.3L-1.55,1.3Z","size":400,"filled":true,"fill":"white","stroke":"black","strokeWidth":1.2,"opacity":1},
 "encoding":{"x":{"field":"x","type":"quantitative","axis":null},"y":{"field":"yt","type":"quantitative","axis":null}}},
{"data":{"name":"ann"},
 "transform":[{"filter":"datum.dir === 'down'"}],
 "mark":{"type":"point","shape":"M-0.6,-2.6L0.6,-2.6L0,0Z","size":100,"filled":true,"color":"black","opacity":1,"strokeWidth":0},
 "encoding":{"x":{"field":"x","type":"quantitative","axis":null},"y":{"field":"yb","type":"quantitative","axis":null}}},
{"data":{"name":"ann"},
 "transform":[{"filter":"datum.dir === 'up'"}],
 "mark":{"type":"point","shape":"M-0.6,2.6L0.6,2.6L0,0Z","size":100,"filled":true,"color":"black","opacity":1,"strokeWidth":0},
 "encoding":{"x":{"field":"x","type":"quantitative","axis":null},"y":{"field":"yb","type":"quantitative","axis":null}}},
{"data":{"name":"ann"},
 "transform":[{"filter":"datum.box === 'single' || datum.box === 'wide'"}],
 "mark":{"type":"text","font":"Liberation Serif","fontSize":12,"color":"black","baseline":"middle","align":"center"},
 "encoding":{
  "x":{"field":"x","type":"quantitative","axis":null},
  "y":{"field":"yt","type":"quantitative","axis":null},
  "text":{"field":"t","type":"nominal"}}},
{"data":{"name":"ann"},
 "transform":[{"filter":"datum.box === 'double'"}],
 "mark":{"type":"text","font":"Liberation Serif","fontSize":11.5,"color":"black","baseline":"alphabetic","align":"center","dy":-2},
 "encoding":{
  "x":{"field":"x","type":"quantitative","axis":null},
  "y":{"field":"yt","type":"quantitative","axis":null},
  "text":{"field":"l1","type":"nominal"}}},
{"data":{"name":"ann"},
 "transform":[{"filter":"datum.box === 'double'"}],
 "mark":{"type":"text","font":"Liberation Serif","fontSize":11.5,"color":"black","baseline":"alphabetic","align":"center","dy":9.5},
 "encoding":{
  "x":{"field":"x","type":"quantitative","axis":null},
  "y":{"field":"yt","type":"quantitative","axis":null},
  "text":{"field":"l2","type":"nominal"}}},
{"data":{"name":"ann"},
 "transform":[{"filter":"datum.box === 'none'"}],
 "mark":{"type":"text","font":"Liberation Serif","fontSize":19,"color":"black","baseline":"middle","align":"center"},
 "encoding":{
  "x":{"field":"x","type":"quantitative","axis":null},
  "y":{"field":"yt","type":"quantitative","axis":null},
  "text":{"field":"t","type":"nominal"}}},
{"data":{"name":"curvelabels"},
 "mark":{"type":"text","font":"Liberation Serif","fontSize":17,"color":"black","baseline":"middle","align":"center"},
 "encoding":{
  "x":{"field":"x","type":"quantitative","axis":null},
  "y":{"field":"y","type":"quantitative","axis":null},
  "text":{"field":"t","type":"nominal"}}},
{"data":{"name":"titles"},
 "transform":[{"filter":"datum.k === 'main'"}],
 "mark":{"type":"text","font":"Liberation Serif","fontSize":27,"fontWeight":"bold","color":"black","baseline":"middle","align":"right"},
 "encoding":{
  "x":{"field":"x","type":"quantitative","axis":null},
  "y":{"field":"y","type":"quantitative","axis":null},
  "text":{"field":"t","type":"nominal"}}},
{"data":{"name":"titles"},
 "transform":[{"filter":"datum.k === 'sub'"}],
 "mark":{"type":"text","font":"Liberation Serif","fontSize":20,"color":"black","baseline":"middle","align":"right"},
 "encoding":{
  "x":{"field":"x","type":"quantitative","axis":null},
  "y":{"field":"y","type":"quantitative","axis":null},
  "text":{"field":"t","type":"nominal"}}}
],
"resolve":{"axis":{"x":"independent","y":"independent"}}
}
